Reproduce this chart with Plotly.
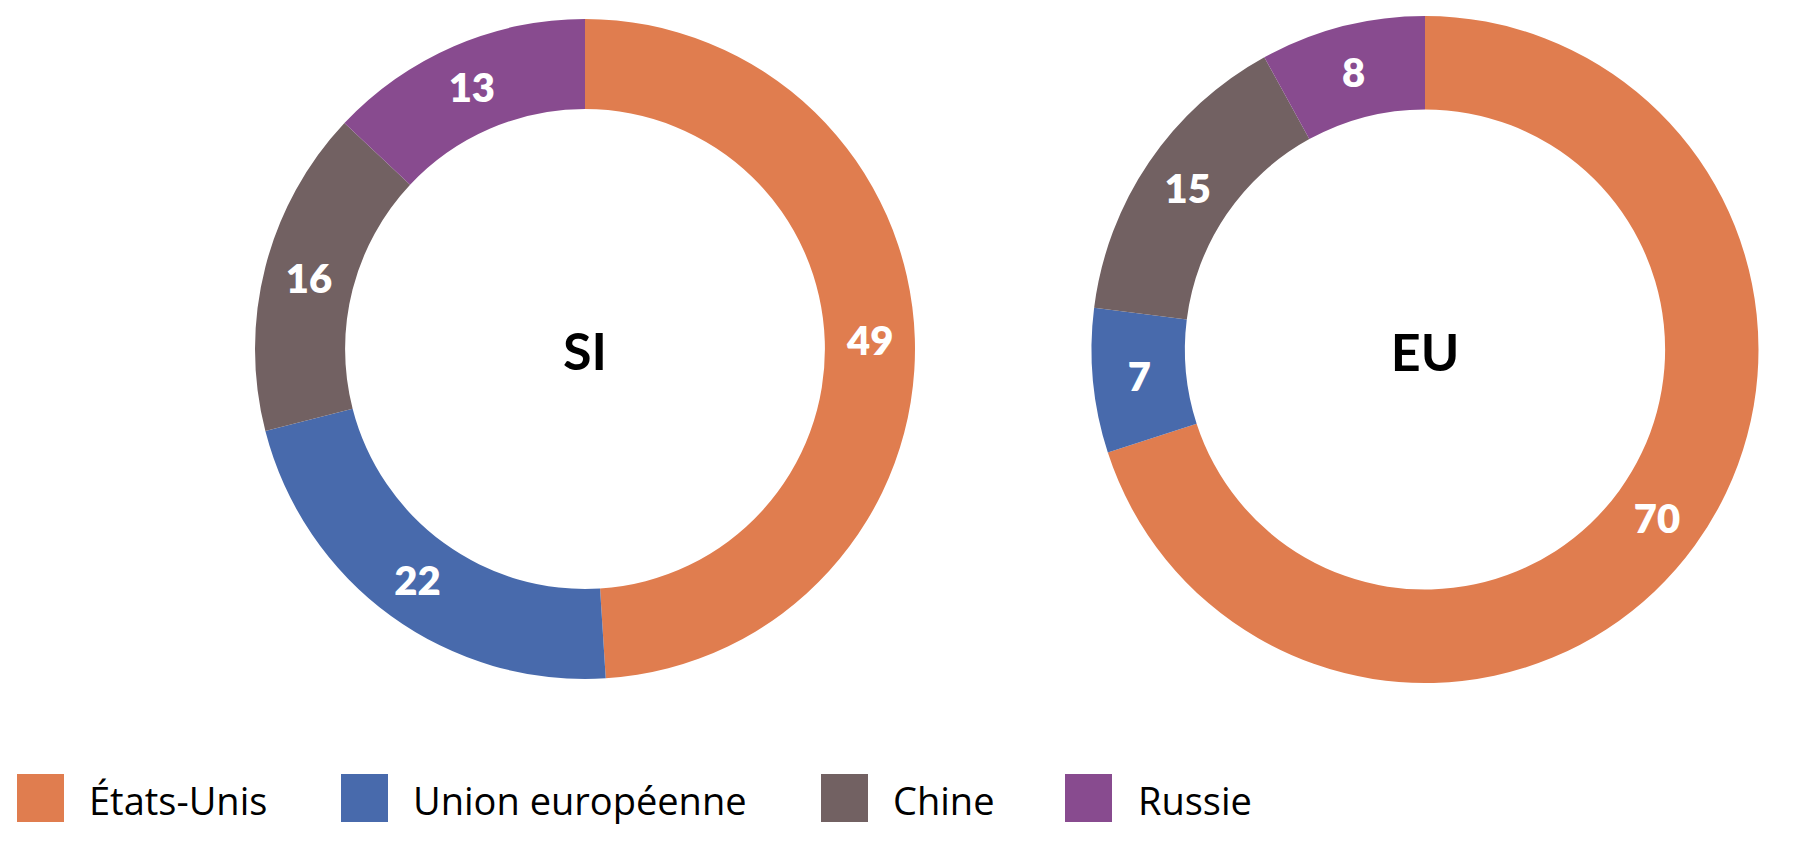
import plotly.graph_objects as go

# ---- data ----
categories = ["États-Unis", "Union européenne", "Chine", "Russie"]
si_values = [49, 22, 16, 13]
eu_values = [70, 7, 15, 8]
chart_titles = ["SI", "EU"]
colors = ["#E07D4F", "#486AAC", "#726162", "#884B8F"]

# page is 1816x846; the browser's default 8px body margin offsets the figure
PAGE_W, PAGE_H, OFF = 1816, 846, 8
W, H = PAGE_W - 2 * OFF, PAGE_H - 2 * OFF

def fx(sx):
    return (sx - OFF) / W

def fy(sy):
    return 1 - (sy - OFF) / H

def px_domain(cx, cy, r):
    return dict(x=[fx(cx - r), fx(cx + r)], y=[fy(cy + r), fy(cy - r)])

fig = go.Figure()

pie_geom = [(585, 349, 330, 0.727), (1425, 349.5, 333.5, 0.72)]
for vals, title, (cx, cy, r, hole) in zip([si_values, eu_values], chart_titles, pie_geom):
    fig.add_trace(go.Pie(
        labels=categories,
        values=vals,
        sort=False,
        direction="clockwise",
        rotation=0,
        hole=hole,
        domain=px_domain(cx, cy, r),
        marker=dict(colors=colors, line=dict(width=0)),
        textinfo="value",
        textposition="inside",
        insidetextorientation="horizontal",
        textfont=dict(family="Lato", size=40, color="white", weight=800),
        title=dict(text=title, position="middle center",
                   font=dict(family="Lato", size=52, color="black", weight=700)),
        showlegend=False,
        hoverinfo="label+value",
    ))

# ---- custom legend (large square swatches) ----
sq_left = [17, 341, 821, 1065]
txt_left = [89, 413, 893, 1138]
sq_top, sq_bottom, sq_size = 774, 822, 47
shapes = []
annotations = []
for cat, col, sx, tx in zip(categories, colors, sq_left, txt_left):
    shapes.append(dict(type="rect", xref="paper", yref="paper",
                       x0=fx(sx), x1=fx(sx + sq_size),
                       y0=fy(sq_bottom), y1=fy(sq_top),
                       fillcolor=col, line=dict(width=0)))
    annotations.append(dict(text=cat, xref="paper", yref="paper",
                            x=fx(tx - 2), y=fy(800), xanchor="left", yanchor="middle",
                            showarrow=False,
                            font=dict(family="Open Sans", size=38, color="black")))

fig.update_layout(
    width=W, height=H,
    margin=dict(l=0, r=0, t=0, b=0),
    paper_bgcolor="white",
    plot_bgcolor="white",
    shapes=shapes,
    annotations=annotations,
    showlegend=False,
)

fig.write_html("out.html")
